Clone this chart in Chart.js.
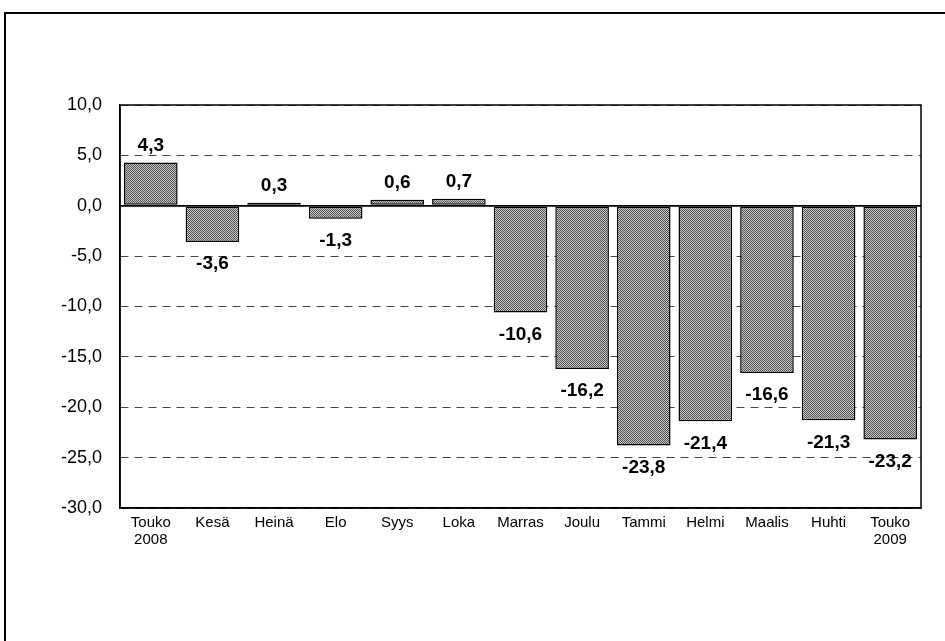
<!DOCTYPE html>
<html>
<head>
<meta charset="utf-8">
<script src="https://cdn.jsdelivr.net/npm/chart.js@4"></script>
<style>
  html, body { margin: 0; padding: 0; background: #fff; }
  #wrap { width: 945px; height: 641px; position: relative; }
</style>
</head>
<body>
<div id="wrap"><canvas id="c" width="945" height="641"></canvas></div>
<script>
const categories = [["Touko","2008"],"Kesä","Heinä","Elo","Syys","Loka","Marras","Joulu","Tammi","Helmi","Maalis","Huhti",["Touko","2009"]];
const values = [4.3, -3.6, 0.3, -1.3, 0.6, 0.7, -10.6, -16.2, -23.8, -21.4, -16.6, -21.3, -23.2];
const yMin = -30, yMax = 10, yStep = 5;

const fmt = v => v.toFixed(1).replace('.', ',');

// dithered gray fill like the reference
const pc = document.createElement('canvas');
pc.width = 2; pc.height = 2;
const pctx = pc.getContext('2d');
pctx.fillStyle = '#c4c4c4'; pctx.fillRect(0,0,2,2);
pctx.fillStyle = '#545454'; pctx.fillRect(0,0,1,1); pctx.fillRect(1,1,1,1);
const ctx0 = document.getElementById('c').getContext('2d');
const pattern = ctx0.createPattern(pc, 'repeat');

const framePlugin = {
  id: 'frame',
  beforeDraw(chart) {
    const c = chart.ctx;
    c.save();
    c.fillStyle = '#fff';
    c.fillRect(0, 0, chart.width, chart.height);
    c.strokeStyle = '#000';
    c.lineWidth = 2;
    c.strokeRect(5, 13, chart.width + 10, chart.height + 10);
    c.restore();
  },
  afterDraw(chart) {
    const a = chart.chartArea, c = chart.ctx;
    c.save();
    c.strokeStyle = '#000';
    c.lineWidth = 1.5;
    c.strokeRect(a.left, a.top, a.right - a.left, a.bottom - a.top);
    c.restore();
  }
};

const labelPlugin = {
  id: 'vlabels',
  afterDatasetsDraw(chart) {
    const c = chart.ctx;
    const meta = chart.getDatasetMeta(0);
    c.save();
    c.font = 'bold 19px "Liberation Sans", Arial, sans-serif';
    c.fillStyle = '#000';
    c.textAlign = 'center';
    c.textBaseline = 'middle';
    meta.data.forEach((el, i) => {
      const v = values[i];
      const y = v >= 0 ? el.y - 17 : el.y + 22;
      c.fillText(fmt(v), el.x, y);
    });
    c.restore();
  }
};

new Chart(ctx0, {
  type: 'bar',
  data: {
    labels: categories,
    datasets: [{
      data: values,
      backgroundColor: pattern,
      borderColor: '#000',
      borderWidth: 1.5,
      borderSkipped: false,
      categoryPercentage: 1,
      barPercentage: 0.87
    }]
  },
  options: {
    responsive: false,
    animation: false,
    devicePixelRatio: 1,
    layout: { padding: { left: 0, top: 105, right: 24, bottom: 0 } },
    plugins: { legend: { display: false }, tooltip: { enabled: false } },
    scales: {
      x: {
        grid: { display: false, drawTicks: false },
        border: { display: true, color: '#000', width: 1.5 },
        ticks: {
          color: '#000',
          font: { family: '"Liberation Sans", Arial, sans-serif', size: 15, lineHeight: 1.1 },
          padding: 7,
          maxRotation: 0,
          autoSkip: false
        },
        afterFit(s) { s.height = 133; }
      },
      y: {
        min: yMin, max: yMax,
        grid: {
          drawTicks: false,
          color: ctx => (ctx.tick && ctx.tick.value === 0) ? '#000' : '#444',
          lineWidth: ctx => (ctx.tick && ctx.tick.value === 0) ? 1.8 : 1
        },
        border: {
          display: true, color: '#000', width: 1.5,
          dash: ctx => (ctx.tick && ctx.tick.value === 0) ? [] : [8, 6]
        },
        ticks: {
          stepSize: yStep,
          color: '#000',
          padding: 18,
          font: { family: '"Liberation Sans", Arial, sans-serif', size: 18 },
          callback: v => fmt(v)
        },
        afterFit(s) { s.width = 120; }
      }
    }
  },
  plugins: [framePlugin, labelPlugin]
});
</script>
</body>
</html>
